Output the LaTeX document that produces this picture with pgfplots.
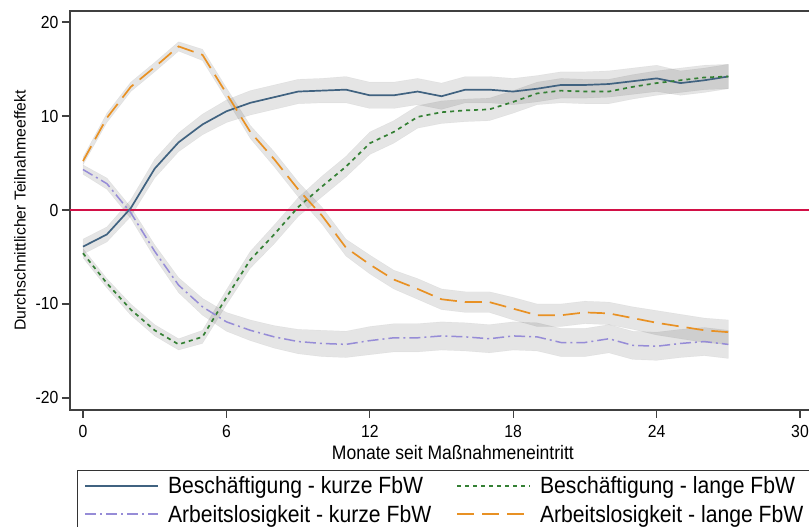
\documentclass[border=0pt]{standalone}
\usepackage{fontspec}
\setmainfont{Liberation Sans}[FakeStretch=0.9]
\newfontfamily\ylfont{Liberation Sans}
\usepackage{pgfplots}
\pgfplotsset{compat=1.18}
\usepackage{pgfplotstable}
\usepgfplotslibrary{fillbetween}

\definecolor{cblue}{RGB}{64,98,128}
\definecolor{cgreen}{RGB}{52,128,52}
\definecolor{cpurple}{RGB}{150,140,215}
\definecolor{corange}{RGB}{232,145,36}
\definecolor{cred}{RGB}{210,16,70}

\pgfplotstableread{
m  v1    c1   v2     c2   v3     c3   v4     c4
0  -3.9  0.8  -4.6   0.5  4.3    0.5  5.2    0.4
1  -2.6  0.8  -7.8   0.5  2.8    0.6  9.8    0.5
2  0.2   0.9  -10.6  0.6  -0.3   0.6  13.1   0.5
3  4.4   1.0  -12.8  0.6  -4.4   0.7  15.2   0.5
4  7.2   1.0  -14.3  0.6  -8.0   0.8  17.4   0.5
5  9.1   1.1  -13.5  0.7  -10.3  0.9  16.5   0.6
6  10.5  1.2  -9.3   0.8  -11.9  1.0  12.4   0.6
7  11.4  1.3  -5.3   0.9  -12.8  1.1  8.3    0.7
8  12.0  1.3  -2.6   1.0  -13.5  1.2  5.4    0.8
9  12.6  1.3  0.3    1.0  -14.0  1.3  2.2    0.8
10 12.7  1.3  2.5    1.1  -14.2  1.4  -0.6   0.9
11 12.8  1.4  4.6    1.1  -14.3  1.4  -4.0   0.9
12 12.2  1.4  7.1    1.2  -13.9  1.5  -5.8   1.0
13 12.2  1.4  8.3    1.2  -13.6  1.5  -7.4   1.0
14 12.6  1.4  9.9    1.2  -13.6  1.5  -8.4   1.1
15 12.1  1.4  10.4   1.2  -13.4  1.5  -9.5   1.1
16 12.8  1.4  10.6   1.2  -13.5  1.5  -9.8   1.1
17 12.8  1.4  10.7   1.2  -13.7  1.5  -9.8   1.1
18 12.6  1.4  11.5   1.2  -13.4  1.5  -10.5  1.2
19 12.9  1.4  12.4   1.2  -13.5  1.5  -11.2  1.2
20 13.3  1.4  12.7   1.3  -14.1  1.5  -11.2  1.2
21 13.3  1.4  12.6   1.3  -14.1  1.5  -10.9  1.2
22 13.4  1.4  12.6   1.3  -13.7  1.5  -11.0  1.2
23 13.7  1.4  13.1   1.3  -14.4  1.5  -11.5  1.2
24 14.0  1.4  13.5   1.3  -14.5  1.5  -12.0  1.3
25 13.5  1.3  13.8   1.3  -14.2  1.5  -12.4  1.3
26 13.8  1.3  14.1   1.3  -14.0  1.5  -12.8  1.3
27 14.2  1.3  14.2   1.3  -14.3  1.5  -13.0  1.3
}\data

\pgfplotsset{band/.style={fill=black, fill opacity=0.1, draw=black, draw opacity=0.05}}

\begin{document}
\begin{tikzpicture}
\begin{axis}[
  at={(70pt,117pt)}, anchor=south west,
  scale only axis, width=765.85pt, height=399pt,
  xmin=-0.544, xmax=31.5, ymin=-21.28, ymax=21.17,
  xtick={0,6,...,30}, ytick={-20,-10,0,10,20},
  tick align=outside, xtick pos=left, ytick pos=left,
  major tick length=8pt,
  tick style={black!75, line width=1.2pt},
  axis line style={black!75, line width=1.3pt},
  /pgf/number format/assume math mode=true,
  ticklabel style={font=\fontsize{17.5}{20}\selectfont},
  xticklabel style={yshift=-4pt},
  xlabel={Monate seit Maßnahmeneintritt},
  ylabel={Durchschnittlicher Teilnahmeeffekt},
  xlabel style={font=\fontsize{19.5}{22}\selectfont},
  ylabel style={font=\ylfont\fontsize{15.8}{18}\selectfont},
  xlabel shift=1pt, ylabel shift=3pt,
  legend columns=2,
  legend cell align=left,
  legend style={at={(axis description cs:0.00914,-0.151)}, anchor=north west,
    draw=black!80, font=\fontsize{23.5}{26}\selectfont,
    inner xsep=7pt, inner ysep=4pt, row sep=6pt,
    /tikz/every odd column/.append style={column sep=7pt},
    /tikz/every even column/.append style={column sep=23pt}},
  legend image code/.code={\draw[#1, line width=1.8pt] (0pt,0pt) -- (73pt,0pt);},
]
\addplot[draw=none, name path=u1, forget plot] table[x=m, y expr=\thisrow{v1}+\thisrow{c1}] {\data};
\addplot[draw=none, name path=l1, forget plot] table[x=m, y expr=\thisrow{v1}-\thisrow{c1}] {\data};
\addplot[band, forget plot] fill between[of=u1 and l1];
\addplot[draw=none, name path=u2, forget plot] table[x=m, y expr=\thisrow{v2}+\thisrow{c2}] {\data};
\addplot[draw=none, name path=l2, forget plot] table[x=m, y expr=\thisrow{v2}-\thisrow{c2}] {\data};
\addplot[band, forget plot] fill between[of=u2 and l2];
\addplot[draw=none, name path=u3, forget plot] table[x=m, y expr=\thisrow{v3}+\thisrow{c3}] {\data};
\addplot[draw=none, name path=l3, forget plot] table[x=m, y expr=\thisrow{v3}-\thisrow{c3}] {\data};
\addplot[band, forget plot] fill between[of=u3 and l3];
\addplot[draw=none, name path=u4, forget plot] table[x=m, y expr=\thisrow{v4}+\thisrow{c4}] {\data};
\addplot[draw=none, name path=l4, forget plot] table[x=m, y expr=\thisrow{v4}-\thisrow{c4}] {\data};
\addplot[band, forget plot] fill between[of=u4 and l4];

\addplot[cred, line width=1.5pt, forget plot] coordinates {(-1,0) (32,0)};

\addplot[cblue, line width=1.7pt] table[x=m, y=v1] {\data};
\addlegendentry{Beschäftigung - kurze FbW}
\addplot[cgreen, line width=1.7pt, dash pattern=on 4pt off 4pt] table[x=m, y=v2] {\data};
\addlegendentry{Beschäftigung - lange FbW}
\addplot[cpurple, line width=1.5pt, dash pattern=on 11pt off 4pt on 2pt off 4pt] table[x=m, y=v3] {\data};
\addlegendentry{Arbeitslosigkeit - kurze FbW}
\addplot[corange, line width=1.7pt, dash pattern=on 17pt off 8pt] table[x=m, y=v4] {\data};
\addlegendentry{Arbeitslosigkeit - lange FbW}
\end{axis}
\pgfresetboundingbox
\useasboundingbox (0,0) rectangle (809pt,527pt);
\end{tikzpicture}
\end{document}
